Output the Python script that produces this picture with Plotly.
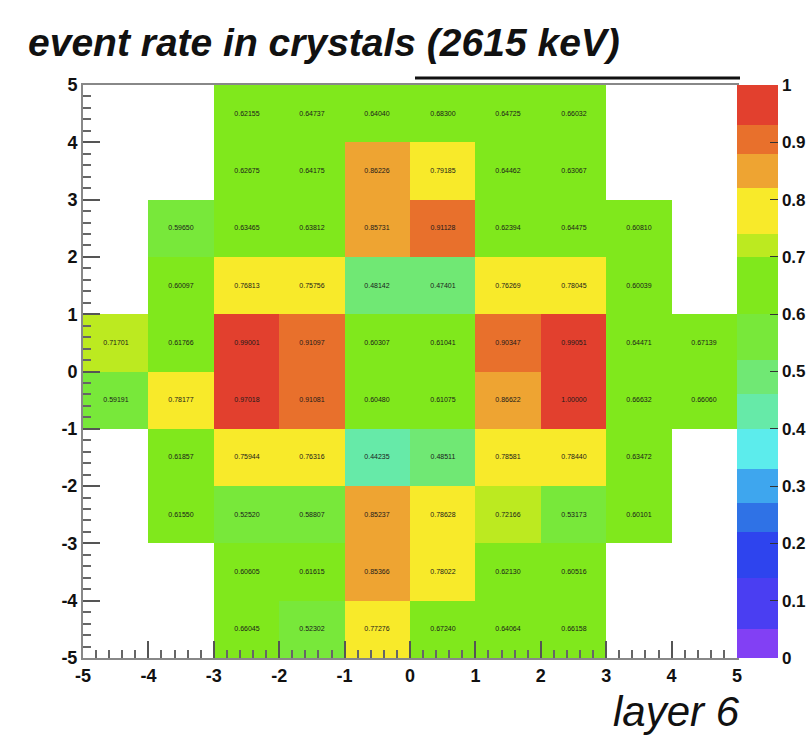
import plotly.graph_objects as go

# bin centres
x_centers = [-4.5, -3.5, -2.5, -1.5, -0.5, 0.5, 1.5, 2.5, 3.5, 4.5]
y_centers = [-4.5, -3.5, -2.5, -1.5, -0.5, 0.5, 1.5, 2.5, 3.5, 4.5]

N = None
# rows listed bottom (y=-4.5) to top (y=4.5); columns x=-4.5..4.5
row_m45 = [N, N, 0.66045, 0.52302, 0.77276, 0.67240, 0.64064, 0.66158, N, N]
row_m35 = [N, N, 0.60605, 0.61615, 0.85366, 0.78022, 0.62130, 0.60516, N, N]
row_m25 = [N, 0.61550, 0.52520, 0.58807, 0.85237, 0.78628, 0.72166, 0.53173, 0.60101, N]
row_m15 = [N, 0.61857, 0.75944, 0.76316, 0.44235, 0.48511, 0.78581, 0.78440, 0.63472, N]
row_m05 = [0.59191, 0.78177, 0.97018, 0.91081, 0.60480, 0.61075, 0.86622, 1.00000, 0.66632, 0.66060]
row_p05 = [0.71701, 0.61766, 0.99001, 0.91097, 0.60307, 0.61041, 0.90347, 0.99051, 0.64471, 0.67139]
row_p15 = [N, 0.60097, 0.76813, 0.75756, 0.48142, 0.47401, 0.76269, 0.78045, 0.60039, N]
row_p25 = [N, 0.59650, 0.63465, 0.63812, 0.85731, 0.91128, 0.62394, 0.64475, 0.60810, N]
row_p35 = [N, N, 0.62675, 0.64175, 0.86226, 0.79185, 0.64462, 0.63067, N, N]
row_p45 = [N, N, 0.62155, 0.64737, 0.64040, 0.68300, 0.64725, 0.66032, N, N]

z_rows = [row_m45, row_m35, row_m25, row_m15, row_m05,
          row_p05, row_p15, row_p25, row_p35, row_p45]

text_rows = [["" if v is None else f"{v:.5f}" for v in r] for r in z_rows]

x_ticks = [-5, -4, -3, -2, -1, 0, 1, 2, 3, 4, 5]
x_labels = ["-5", "-4", "-3", "-2", "-1", "0", "1", "2", "3", "4", "5"]
y_ticks = [-5, -4, -3, -2, -1, 0, 1, 2, 3, 4, 5]
y_labels = ["-5", "-4", "-3", "-2", "-1", "0", "1", "2", "3", "4", "5"]
cb_ticks = [0, 0.1, 0.2, 0.3, 0.4, 0.5, 0.6, 0.7, 0.8, 0.9, 1]
cb_labels = ["0", "0.1", "0.2", "0.3", "0.4", "0.5", "0.6", "0.7", "0.8", "0.9", "1"]

bands = [
    (0.00, 0.05, "#8240f4"),
    (0.05, 0.14, "#4a3ef2"),
    (0.14, 0.22, "#2e44ee"),
    (0.22, 0.27, "#2f72e6"),
    (0.27, 0.33, "#3ea6ee"),
    (0.33, 0.40, "#5cecec"),
    (0.40, 0.46, "#66eaa8"),
    (0.46, 0.52, "#70e874"),
    (0.52, 0.60, "#78e83a"),
    (0.60, 0.70, "#80e81c"),
    (0.70, 0.74, "#bcea20"),
    (0.74, 0.82, "#f8ea2a"),
    (0.82, 0.88, "#eea432"),
    (0.88, 0.93, "#e8702c"),
    (0.93, 1.00, "#e2402e"),
]
colorscale = []
for a, b, c in bands:
    colorscale.append([a, c])
    colorscale.append([b, c])

FONT = "Liberation Sans, Arial, sans-serif"

fig = go.Figure()
fig.add_trace(go.Heatmap(
    x=x_centers, y=y_centers, z=z_rows,
    text=text_rows, texttemplate="%{text}",
    textfont=dict(size=7, color="#1a1a1a", family=FONT),
    zmin=0, zmax=1, colorscale=colorscale,
    hoverongaps=False,
    colorbar=dict(
        x=1.0, xanchor="left", xpad=0, ypad=0,
        y=0, yanchor="bottom", len=1, lenmode="fraction",
        thickness=41, outlinewidth=0,
        tickvals=cb_ticks, ticktext=cb_labels,
        ticks="inside", ticklen=8, tickcolor="#333333",
        tickfont=dict(size=17, color="#111111", family=FONT, weight="bold"),
    ),
))

axis_common = dict(
    showgrid=False, zeroline=False,
    showline=True, linecolor="#888888", linewidth=2, mirror=True,
    ticks="inside", ticklen=17, tickwidth=1.5, tickcolor="#555555",
    tickfont=dict(size=18, color="#111111", family=FONT, weight="bold"),
    minor=dict(dtick=0.2, ticks="inside", ticklen=8, tickcolor="#666666"),
)

fig.update_xaxes(range=[-5, 5], tickvals=x_ticks, ticktext=x_labels, **axis_common)
fig.update_yaxes(range=[-5, 5], tickvals=y_ticks, ticktext=y_labels, **axis_common)

fig.update_layout(
    width=812, height=736,
    margin=dict(l=83, r=75, t=85, b=78, autoexpand=False),
    plot_bgcolor="white", paper_bgcolor="white",
    title=dict(
        text="event rate in crystals (2615 keV)",
        x=28 / 812, xanchor="left", xref="container",
        y=1 - 42 / 736, yanchor="middle", yref="container",
        font=dict(size=39, color="#111111", family=FONT,
                  weight="bold", style="italic"),
    ),
    annotations=[dict(
        text="layer 6", xref="paper", yref="paper",
        x=(742 - 83) / 654, y=-(711 - 658) / 573,
        xanchor="right", yanchor="middle", showarrow=False,
        font=dict(size=42, color="#111111", family=FONT, style="italic"),
    )],
    shapes=[dict(
        type="line", xref="paper", yref="paper",
        x0=(415 - 83) / 654, x1=(740 - 83) / 654,
        y0=(658 - 78) / 573, y1=(658 - 78) / 573,
        line=dict(color="#111111", width=3),
    )],
)

fig.write_html("out.html")
